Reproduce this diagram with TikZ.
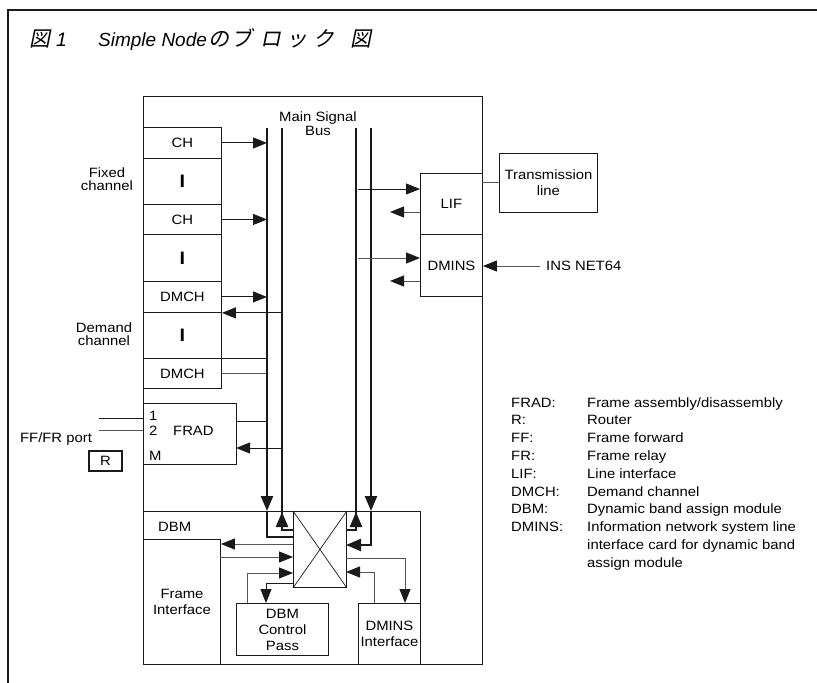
\documentclass[tikz,border=0pt]{standalone}
\usepackage{fontspec}
\setmainfont{Liberation Sans}[FakeStretch=1.1]
\newfontfamily\titlefont{Liberation Sans}
\newfontfamily\jpfont{Noto Sans CJK JP}[FakeSlant=0.2]
\usetikzlibrary{arrows.meta}
\definecolor{ln}{HTML}{1A1A1A}
\definecolor{gl}{HTML}{555555}
\newcommand{\lbl}{\fontsize{13.5}{16}\selectfont}
\newcommand{\vbar}{{\fontsize{18}{18}\selectfont\bfseries I}}
\tikzset{
  box/.style={draw=ln, line width=0.9pt, rectangle, inner sep=0pt, anchor=north west, align=center, font=\lbl},
  txt/.style={inner sep=0pt, font=\lbl},
  arr/.style={-{Triangle[length=14pt,width=11pt,color=ln]}, line width=1pt, draw=ln},
  garr/.style={-{Triangle[length=14pt,width=11pt,color=ln]}, line width=1pt, draw=gl},
  bus/.style={line width=2.3pt, draw=ln},
  btip/.style={bus, -{Triangle[length=15pt,width=12pt,color=ln]}},
  conn/.style={line width=1pt, draw=gl},
  dline/.style={line width=1pt, draw=ln},
}
\begin{document}
\begin{tikzpicture}[x=1pt,y=-1pt]
\useasboundingbox (0,0) rectangle (817,683);
\fill[white] (0,0) rectangle (817,683);
% outer frame
\draw[line width=2pt, draw=ln] (8,683) -- (8,10) -- (817,10);
% title
\node[inner sep=0pt, anchor=base west, font=\fontsize{21}{21}\selectfont] (t1) at (29,46) {\jpfont 図};
\node[inner sep=0pt, anchor=base west, font=\fontsize{19.5}{20}\selectfont] (t2) at (56,46) {\titlefont\itshape 1};
\node[inner sep=0pt, anchor=base west, font=\fontsize{19}{20}\selectfont] (t3) at (98,46) {\titlefont\itshape Simple Node};
\node[inner sep=0pt, anchor=base west, font=\fontsize{21}{21}\selectfont] (t4) at (208,46) {\jpfont の\kern2pt ブ\kern8pt ロ\kern5pt ッ\kern6pt ク\kern16pt 図};

% main box
\node[box, minimum width=339pt, minimum height=568pt] (main) at (143,96) {};
% left column
\node[box, minimum width=78pt, minimum height=31pt] (ch1) at (143,127) {CH};
\node[box, minimum width=78pt, minimum height=46pt] (i1) at (143,158) {\vbar};
\node[box, minimum width=78pt, minimum height=30pt] (ch2) at (143,204) {CH};
\node[box, minimum width=78pt, minimum height=47pt] (i2) at (143,234) {\vbar};
\node[box, minimum width=78pt, minimum height=31pt] (dm1) at (143,281) {DMCH};
\node[box, minimum width=78pt, minimum height=46pt] (i3) at (143,312) {\vbar};
\node[box, minimum width=78pt, minimum height=30pt] (dm2) at (143,358) {DMCH};
\node[txt, align=center, anchor=base, font=\fontsize{13.5}{13}\selectfont] (fixed) at (107,190) {Fixed\\channel};
\node[txt, align=center, anchor=base, font=\fontsize{13.5}{13}\selectfont] (demand) at (104,345) {Demand\\channel};

% bus
\coordinate (a0) at (267,128);
\coordinate (b0) at (282,128);
\coordinate (c0) at (356,128);
\coordinate (d0) at (371,128);
\node[txt, align=center, anchor=base, font=\fontsize{13.5}{12}\selectfont] (msb) at (318,135) {Main Signal\\Bus};

\draw[arr] (ch1.east) -- (ch1.east -| a0);
\draw[arr] (ch2.east) -- (ch2.east -| a0);
\draw[arr] (dm1.east) -- (dm1.east -| a0);
\draw[arr] (dm1.south east -| b0) -- (dm1.south east);
\draw[dline] (dm2.north east) -- (dm2.north east -| a0);
\draw[conn] (dm2.east) -- (dm2.east -| a0);

% FRAD
\node[box, minimum width=93pt, minimum height=61pt] (frad) at (143,403) {};
\node[txt, anchor=base west] (fradt) at (173,435) {FRAD};
\node[txt, anchor=base west] (n1) at (149,420) {1};
\node[txt, anchor=base west] (n2) at (149,435) {2};
\node[txt, anchor=base west] (nm) at (149,460) {M};
\coordinate (fr1) at (236,421);
\coordinate (fr2) at (236,448);
\draw[dline] (fr1) -- (fr1 -| a0);
\draw[arr] (fr2 -| b0) -- (fr2);
\coordinate (p1) at (99,418);
\coordinate (p2) at (99,430);
\draw[dline] (p1) -- (p1 -| frad.west);
\draw[conn] (p2) -- (p2 -| frad.west);
\node[txt, anchor=base] (ffport) at (56,442) {FF/FR port};
\node[draw=ln, line width=2pt, inner sep=0pt, minimum width=33pt, minimum height=20pt, anchor=north west, font=\lbl] (rbox) at (88,450) {R};

% DBM block
\node[box, minimum width=277pt, minimum height=153pt] (dbm) at (143,511) {};
\node[txt, anchor=base west] (dbmt) at (158,531) {DBM};
\node[box, minimum width=77pt, minimum height=125pt] (fi) at (143,539) {Frame\\Interface};
\node[box, minimum width=53pt, minimum height=76pt] (xbar) at (293,511) {};
\draw[line width=0.7pt, ln] (xbar.north west) -- (xbar.south east) (xbar.south west) -- (xbar.north east);
\node[box, minimum width=92pt, minimum height=52pt] (dcp) at (236,603) {DBM\\Control\\Pass};
\node[box, minimum width=62pt, minimum height=61pt] (dmi) at (358,603) {DMINS\\Interface};

% bus to crossbar
\coordinate (xa) at (293,537);
\coordinate (xb) at (293,530);
\coordinate (xc) at (346,530);
\coordinate (xd) at (346,545);
\draw[btip] (a0) -- (a0 |- dbm.north);
\draw[bus] (a0 |- dbm.north) -- (a0 |- xa) -- (xa);
\draw[bus] (b0) -- (282,527);
\draw[btip] (xb) -- (xb -| b0) -- (282,512);
\draw[bus] (c0) -- (356,527);
\draw[btip] (xc) -- (xc -| c0) -- (356,512);
\draw[btip] (d0) -- (d0 |- dbm.north);
\draw[btip] (d0 |- dbm.north) -- (d0 |- xd) -- (xd);

% DBM internal arrows
\coordinate (q1) at (293,544);
\coordinate (q2) at (220,557);
\coordinate (q3) at (247,603);
\coordinate (q3b) at (293,573);
\coordinate (q4) at (293,583);
\coordinate (q4b) at (266,603);
\coordinate (q5) at (346,558);
\coordinate (q5b) at (405,603);
\coordinate (q6) at (374,603);
\coordinate (q6b) at (346,572);
\draw[garr] (q1) -- (q1 -| fi.east);
\draw[garr] (q2) -- (q2 -| xbar.west);
\draw[garr] (q3) |- (q3b);
\draw[arr] (q4) -| (q4b);
\draw[garr] (q5) -| (q5b);
\draw[garr] (q6) |- (q6b);

% right side
\node[box, minimum width=62pt, minimum height=61pt] (lif) at (420,173) {LIF};
\node[box, minimum width=62pt, minimum height=62pt] (dmins) at (420,234) {DMINS};
\node[box, minimum width=98pt, minimum height=59pt] (trans) at (499,153) {Transmission\\line};
\coordinate (r1) at (358,189);
\coordinate (r2) at (390,212);
\coordinate (r3) at (358,258);
\coordinate (r4) at (390,281);
\draw[arr] (r1) -- (r1 -| lif.west);
\draw[garr] (r2 -| lif.west) -- (r2);
\draw[garr] (r3) -- (r3 -| dmins.west);
\draw[garr] (r4 -| dmins.west) -- (r4);
\coordinate (tl) at (482,182);
\draw[conn] (tl) -- (tl -| trans.west);
\node[txt, anchor=west] (ins) at (546,266) {INS NET64};
\draw[garr] ([xshift=-6pt]ins.west) -- (ins.west -| dmins.east);

% legend
\node[txt, anchor=base west, align=left, font=\fontsize{13.5}{17.8}\selectfont] (lgk) at (511,531.6) {FRAD:\\R:\\FF:\\FR:\\LIF:\\DMCH:\\DBM:\\DMINS:};
\node[txt, anchor=base west, align=left, font=\fontsize{13.5}{17.8}\selectfont] (lgv) at (587,567.2) {Frame assembly/disassembly\\Router\\Frame forward\\Frame relay\\Line interface\\Demand channel\\Dynamic band assign module\\Information network system line\\interface card for dynamic band\\assign module};
\end{tikzpicture}
\end{document}
